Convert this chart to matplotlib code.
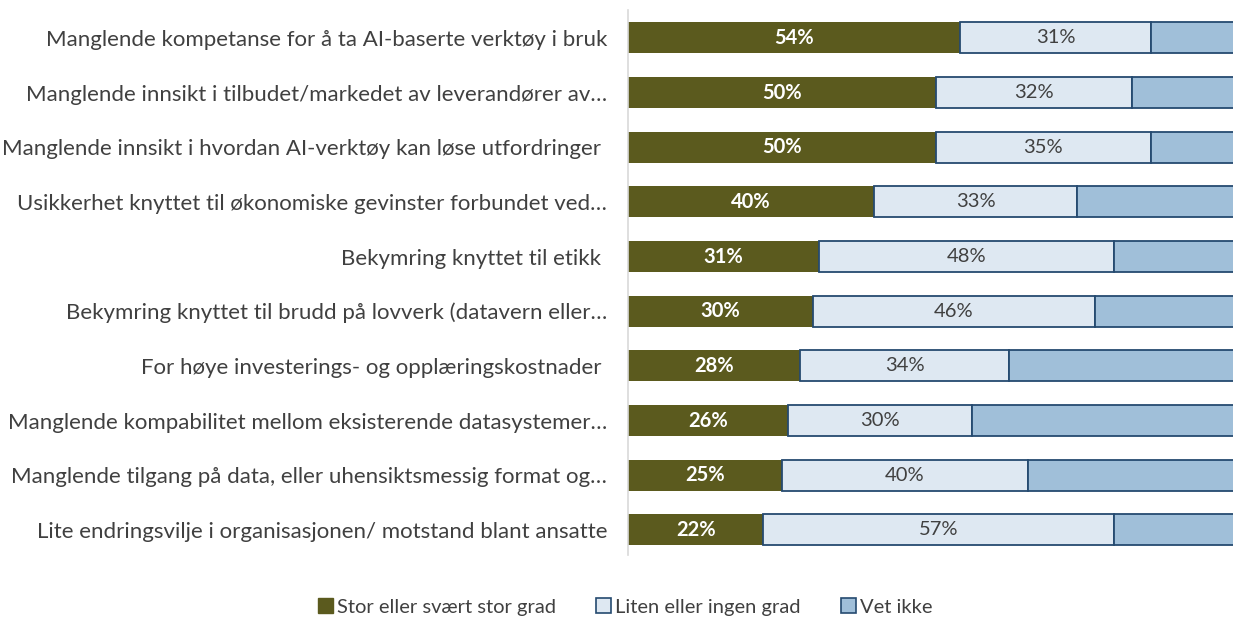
import matplotlib.pyplot as plt
from matplotlib.patches import Patch

plt.rcParams['font.family'] = ['Lato', 'DejaVu Sans']

# kategorier (øverst først)
kategorier = [
    'Manglende kompetanse for å ta AI-baserte verktøy i bruk',
    'Manglende innsikt i tilbudet/markedet av leverandører av…',
    'Manglende innsikt i hvordan AI-verktøy kan løse utfordringer ',
    'Usikkerhet knyttet til økonomiske gevinster forbundet ved…',
    'Bekymring knyttet til etikk ',
    'Bekymring knyttet til brudd på lovverk (datavern eller…',
    'For høye investerings- og opplæringskostnader ',
    'Manglende kompabilitet mellom eksisterende datasystemer…',
    'Manglende tilgang på data, eller uhensiktsmessig format og…',
    'Lite endringsvilje i organisasjonen/ motstand blant ansatte',
]
stor = [54, 50, 50, 40, 31, 30, 28, 26, 25, 22]
liten = [31, 32, 35, 33, 48, 46, 34, 30, 40, 57]
vet_ikke = [100 - s - l for s, l in zip(stor, liten)]

serier = ['Stor eller svært stor grad', 'Liten eller ingen grad', 'Vet ikke']

c_stor = '#5b5a1e'
c_liten = '#dee8f2'
c_vet = '#a0bfd9'
c_kant = '#254a70'
tekst = '#404040'

fig = plt.figure(figsize=(12.33, 6.19), dpi=100)
ax = fig.add_axes([628 / 1233, 64 / 619, 615 / 1233, 545 / 619])

y = list(range(len(kategorier)))
h = 0.57
ax.barh(y, stor, height=h, color=c_stor, edgecolor=c_stor, linewidth=0)
ax.barh(y, liten, left=stor, height=h, color=c_liten, edgecolor=c_kant, linewidth=1.3)
venstre3 = [s + l for s, l in zip(stor, liten)]
ax.barh(y, vet_ikke, left=venstre3, height=h, color=c_vet, edgecolor=c_kant, linewidth=1.3)

for i in y:
    ax.text(stor[i] / 2, i, f'{stor[i]}%', ha='center', va='center',
            color='white', fontsize=14.5, fontweight='bold')
    ax.text(stor[i] + liten[i] / 2, i, f'{liten[i]}%', ha='center', va='center',
            color=tekst, fontsize=14.5)

ax.set_xlim(0, 100)
ax.set_ylim(len(kategorier) - 0.54, -0.51)
ax.set_yticks(y)
ax.set_yticklabels(kategorier, fontsize=16, color=tekst)
ax.tick_params(axis='y', length=0, pad=15)
ax.set_xticks([])
for side in ['top', 'right', 'bottom']:
    ax.spines[side].set_visible(False)
ax.spines['left'].set_color('#d9d9d9')
ax.spines['left'].set_linewidth(1.2)

handles = [
    Patch(facecolor=c_stor, edgecolor=c_stor),
    Patch(facecolor=c_liten, edgecolor=c_kant, linewidth=1.2),
    Patch(facecolor=c_vet, edgecolor=c_kant, linewidth=1.2),
]
leg = fig.legend(handles, serier, loc='center', bbox_to_anchor=(625 / 1233, 12 / 619),
                 ncol=3, frameon=False, fontsize=14.5, handlelength=0.75, handleheight=0.75,
                 handletextpad=0.2, columnspacing=2.0)
for t in leg.get_texts():
    t.set_color(tekst)

fig.savefig('out.png', dpi=100)
